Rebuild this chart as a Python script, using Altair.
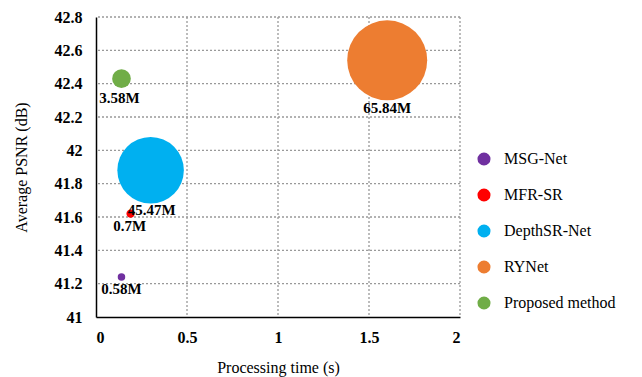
import altair as alt
import pandas as pd

models = ["MSG-Net", "MFR-SR", "DepthSR-Net", "RYNet", "Proposed method"]
times = [0.14, 0.19, 0.30, 1.60, 0.14]
psnr = [41.24, 41.62, 41.88, 42.54, 42.43]
params = [0.58, 0.7, 45.47, 65.84, 3.58]
param_labels = ["0.58M", "0.7M", "45.47M", "65.84M", "3.58M"]
colors = ["#7030A0", "#FF0000", "#00B0F0", "#ED7D31", "#70AD47"]
x_ticks = [0, 0.5, 1, 1.5, 2]
y_ticks = [41, 41.2, 41.4, 41.6, 41.8, 42, 42.2, 42.4, 42.6, 42.8]

df = pd.DataFrame({"model": models, "time": times, "psnr": psnr,
                   "params": params, "label": param_labels})
xgrid = pd.DataFrame({"time": x_ticks[1:]})
ygrid = pd.DataFrame({"psnr": y_ticks[1:]})

FONT = "Liberation Serif"

axis_common = dict(labelFont=FONT, titleFont=FONT, labelFontSize=16, titleFontSize=16,
                   labelFontWeight="bold", labelColor="#000", titleColor="#000",
                   titleFontWeight="normal", labelOverlap=False, format="~g",
                   domainColor="#000", domainWidth=1.5, ticks=False, grid=False)

x = alt.X("time:Q", title="Processing time (s)",
          scale=alt.Scale(domain=[0, 2]),
          axis=alt.Axis(values=x_ticks, labelPadding=12, titlePadding=14, **axis_common))
y = alt.Y("psnr:Q", title="Average PSNR (dB)",
          scale=alt.Scale(domain=[41, 42.8], zero=False),
          axis=alt.Axis(values=y_ticks, labelPadding=14, titlePadding=25, **axis_common))

grid_style = dict(color="#999999", strokeDash=[2, 2], strokeWidth=1.3, opacity=1)
vgrid = alt.Chart(xgrid).mark_rule(**grid_style).encode(x=x)
hgrid = alt.Chart(ygrid).mark_rule(**grid_style).encode(y=y)

base = alt.Chart(df).encode(x=x, y=y)

bubbles = base.mark_circle(opacity=1).encode(
    size=alt.Size("params:Q", legend=None,
                  scale=alt.Scale(domain=[0, max(params)], range=[0, 6400])),
    color=alt.Color("model:N", title=None,
                    scale=alt.Scale(domain=models, range=colors),
                    legend=alt.Legend(orient="none", legendX=380, legendY=134,
                                      symbolType="circle", symbolSize=170,
                                      labelFont=FONT, labelFontSize=16,
                                      labelColor="#000", rowPadding=20,
                                      labelOffset=12, padding=0)),
)

offsets = {"MSG-Net": (0, 12), "MFR-SR": (-1, 12), "DepthSR-Net": (1, 40),
           "RYNet": (0, 48), "Proposed method": (-2, 19)}

layers = [vgrid, hgrid, bubbles]
for m in models:
    dx, dy = offsets[m]
    layers.append(
        base.transform_filter(alt.datum.model == m).mark_text(
            font=FONT, fontSize=15, fontWeight="bold", color="#000",
            dx=dx, dy=dy, baseline="middle", align="center"
        ).encode(text="label:N")
    )

chart = alt.layer(*layers).properties(
    width=364, height=300,
    autosize=alt.AutoSizeParams(type="none"),
    padding={"left": 88, "top": 9, "right": 174, "bottom": 60},
).configure_view(stroke=None)

chart.save("out.html", embed_options={"renderer": "svg", "actions": False})
